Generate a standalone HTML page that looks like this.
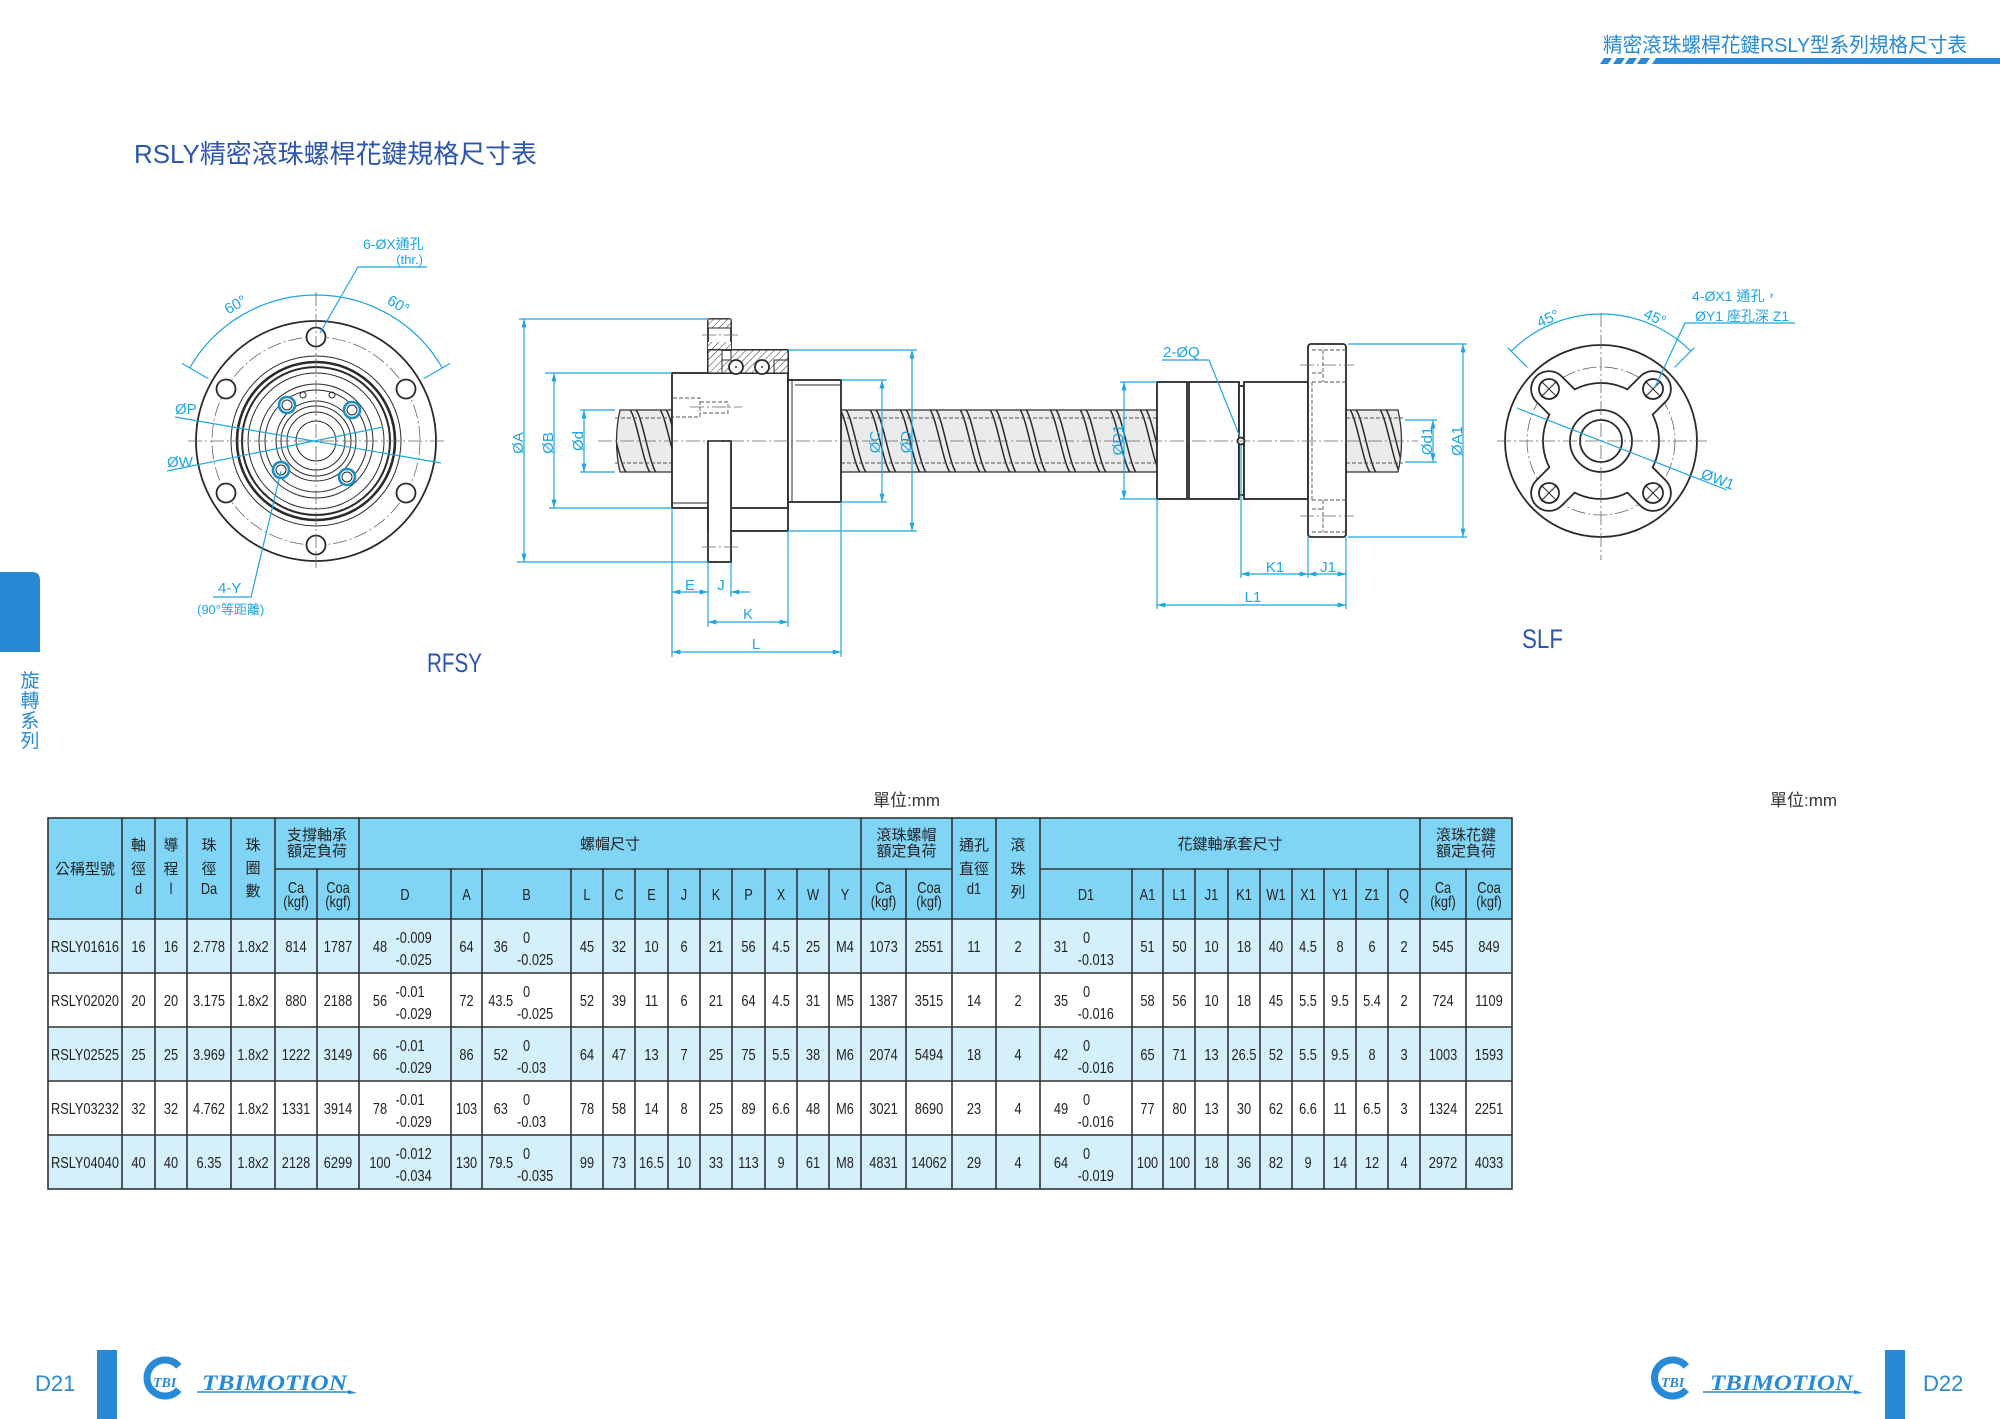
<!DOCTYPE html>
<html><head><meta charset="utf-8"><title>RSLY</title>
<style>
html,body{margin:0;padding:0;background:#fff;width:2000px;height:1419px;overflow:hidden}
svg{display:block}
text{font-family:"Liberation Sans","Noto Sans CJK TC",sans-serif}
.d{fill:#1ea5e4;font-size:15px}
.dl{stroke:#1ea5e4;stroke-width:1.2;fill:none}
.o{stroke:#2a2a2a;stroke-width:1.8;fill:#fff}
.t{stroke:#2a2a2a;stroke-width:1;fill:none}
.c{stroke:#666;stroke-width:.8;fill:none;stroke-dasharray:14 3 2 3}
.h{stroke:#555;stroke-width:.9;fill:none;stroke-dasharray:4 2}
.logo{font-family:"Liberation Serif",serif;font-weight:bold;font-style:italic;fill:#2889d6}
</style></head><body>
<svg width="2000" height="1419" viewBox="0 0 2000 1419" xmlns="http://www.w3.org/2000/svg">
<defs>
<marker id="ar" viewBox="0 0 10 6" refX="10" refY="3" markerWidth="9" markerHeight="5" markerUnits="userSpaceOnUse" orient="auto-start-reverse"><path d="M0,0L10,3L0,6z" fill="#1ea5e4"/></marker>
<pattern id="thr" patternUnits="userSpaceOnUse" x="0" y="410" width="30" height="62">
<rect width="30" height="62" fill="#ebebeb"/>
<path d="M0,0C6,6 14,56 20,62M6,0C12,6 20,56 26,62" stroke="#2a2a2a" stroke-width="1.5" fill="none"/>
</pattern>
<pattern id="hat" patternUnits="userSpaceOnUse" width="5" height="5" patternTransform="rotate(45)"><rect width="5" height="5" fill="#fff"/><line x1="0" y1="0" x2="0" y2="5" stroke="#333" stroke-width="1"/></pattern>
</defs>

<!-- page header -->
<text x="1603" y="52" style="font-size:20.5px" fill="#2889d6" textLength="364" lengthAdjust="spacingAndGlyphs">精密滾珠螺桿花鍵RSLY型系列規格尺寸表</text>
<g fill="#2889d6">
<polygon points="1604,58 1612,58 1608,64 1600,64"/>
<polygon points="1617,58 1625,58 1621,64 1613,64"/>
<polygon points="1629,58 1637,58 1633,64 1625,64"/>
<polygon points="1641,58 1650,58 1646,64 1637,64"/>
<polygon points="1656,58 2000,58 2000,64 1652,64"/>
</g>

<!-- title -->
<text x="134" y="163" style="font-size:26px" fill="#2b55b0" textLength="403" lengthAdjust="spacingAndGlyphs">RSLY精密滾珠螺桿花鍵規格尺寸表</text>

<!-- side tab -->
<path d="M0,572H32Q40,572 40,580V652H0Z" fill="#2889d6"/>
<g style="font-size:19px" fill="#2a8ad4" text-anchor="middle">
<text x="30" y="687">旋</text><text x="30" y="707">轉</text><text x="30" y="727">系</text><text x="30" y="747">列</text>
</g>

<!-- ===== Left flange end view ===== -->
<g>
<circle cx="316" cy="441" r="120" class="o" stroke-width="2"/>
<circle cx="316" cy="441" r="104" class="c"/>
<g class="o" stroke-width="1.5">
<circle cx="316" cy="337" r="9.5"/><circle cx="406" cy="389" r="9.5"/><circle cx="406" cy="493" r="9.5"/>
<circle cx="316" cy="545" r="9.5"/><circle cx="226" cy="493" r="9.5"/><circle cx="226" cy="389" r="9.5"/>
</g>
<circle cx="316" cy="441" r="85" class="t" stroke-width="1.3"/>
<circle cx="316" cy="441" r="79" fill="none" stroke="#2a2a2a" stroke-width="2.6"/>
<circle cx="316" cy="441" r="74" fill="none" stroke="#2a2a2a" stroke-width="2"/>
<circle cx="316" cy="441" r="68" class="t"/>
<circle cx="316" cy="441" r="57" class="t" stroke-width="1.5"/>
<circle cx="316" cy="441" r="51" class="t"/>
<circle cx="316" cy="441" r="40" class="t" stroke-width="1.5"/>
<circle cx="316" cy="441" r="35" class="t"/>
<circle cx="316" cy="441" r="29" class="t" stroke-width="1.5"/>
<circle cx="316" cy="441" r="20" class="t" stroke-width="1.5"/>
<circle cx="303" cy="395" r="3" class="t"/><circle cx="332" cy="395" r="3" class="t"/>
<g fill="#fff" stroke="#1b8fc6" stroke-width="2.6">
<circle cx="287" cy="405" r="8"/><circle cx="352" cy="410" r="8"/><circle cx="281" cy="470" r="8"/><circle cx="347" cy="477" r="8"/>
</g>
<g class="t"><circle cx="287" cy="405" r="5"/><circle cx="352" cy="410" r="5"/><circle cx="281" cy="470" r="5"/><circle cx="347" cy="477" r="5"/></g>
<line x1="188" y1="441" x2="446" y2="441" class="c"/>
<line x1="316" y1="292" x2="316" y2="568" class="c"/>
<!-- dims -->
<path d="M189.6,368A146,146 0 0 1 316,295M316,295A146,146 0 0 1 442.4,368" class="dl"/>
<line x1="182" y1="363.5" x2="208" y2="378.5" class="dl"/>
<line x1="450" y1="363.5" x2="424" y2="378.5" class="dl"/>
<text class="d" text-anchor="middle" transform="translate(238,309) rotate(-30)">60°</text>
<text class="d" text-anchor="middle" transform="translate(396,309) rotate(30)">60°</text>
<text x="363" y="249" style="font-size:14px" fill="#1ea5e4">6-ØX通孔</text>
<text x="423" y="264" style="font-size:13px" fill="#1ea5e4" text-anchor="end">(thr.)</text>
<polyline points="427,267 358,267 320,333" class="dl"/>
<text class="d" x="175" y="414">ØP</text>
<line x1="175" y1="417" x2="441" y2="463" class="dl"/>
<text class="d" x="167" y="467">ØW</text>
<line x1="167" y1="471" x2="383" y2="427" class="dl"/>
<text class="d" x="218" y="593">4-Y</text>
<polyline points="213,597 251,597 281,471" class="dl"/>
<text x="197" y="614" style="font-size:13px" fill="#1ea5e4">(90°等距離)</text>
</g>

<!-- ===== Main side view ===== -->
<g>
<!-- screws -->
<path d="M672,410H620Q613,441 620,472H672Z" fill="url(#thr)" stroke="#333" stroke-width="1.3"/>
<rect x="841" y="410" width="316" height="62" fill="url(#thr)" stroke="#333" stroke-width="1.3"/>
<path d="M1346,410H1398Q1405,441 1398,472H1346Z" fill="url(#thr)" stroke="#333" stroke-width="1.3"/>
<path d="M615,418H672M615,463H672M841,418H1157M841,463H1157M1346,418H1403M1346,463H1403" class="h"/>

<!-- RFSY nut -->
<rect x="708" y="350" width="80" height="181" class="o"/>
<rect x="672" y="373" width="116" height="135" class="o"/>
<rect x="672" y="503" width="36" height="5" class="t"/>
<rect x="708" y="441" width="23" height="121" class="o"/>
<rect x="708" y="319" width="23" height="31" class="o" rx="2"/>
<rect x="708" y="319" width="23" height="9" fill="url(#hat)" stroke="#2a2a2a" stroke-width="1"/>
<rect x="708" y="342" width="23" height="8" fill="url(#hat)"/>
<rect x="708" y="350" width="80" height="23" class="o"/>
<path d="M708,350H788V360H774V373H722V360H731V350Z" fill="url(#hat)" stroke="#2a2a2a" stroke-width="1"/>
<path d="M708,350H722V373H708Z" fill="url(#hat)" stroke="#2a2a2a" stroke-width="1"/>
<path d="M774,360H788V373H774Z" fill="url(#hat)" stroke="#2a2a2a" stroke-width="1"/>
<circle cx="736" cy="367" r="7" class="o" stroke-width="1.5"/><circle cx="762" cy="367" r="7" class="o" stroke-width="1.5"/>
<circle cx="736" cy="367" r="1" fill="#333"/><circle cx="762" cy="367" r="1" fill="#333"/>
<line x1="702" y1="335" x2="739" y2="335" class="c"/>
<line x1="702" y1="547" x2="739" y2="547" class="c"/>
<path d="M673,398H700V417H673M700,402H728V413H700" class="h"/>
<line x1="690" y1="407" x2="742" y2="407" class="c"/>
<rect x="788" y="380" width="53" height="122" class="o"/>
<line x1="792" y1="380" x2="792" y2="502" class="t"/>
<line x1="795" y1="385" x2="841" y2="385" class="t"/>

<!-- SLF nut -->
<rect x="1157" y="382" width="30" height="117" class="o"/>
<rect x="1189" y="382" width="50" height="117" class="o"/>
<rect x="1239" y="386" width="5" height="109" class="o"/>
<rect x="1244" y="382" width="64" height="117" class="o"/>
<rect x="1308" y="344" width="38" height="193" rx="3" class="o"/>
<path d="M1312,350H1346M1312,382H1346M1323,350V382M1312,373H1323M1312,500H1346M1312,532H1346M1323,500V532M1312,509H1323M1312,382V500" class="h"/>
<line x1="1300" y1="365" x2="1354" y2="365" class="c"/>
<line x1="1300" y1="516" x2="1354" y2="516" class="c"/>
<circle cx="1241" cy="441" r="3.5" class="o" stroke-width="1"/>

<line x1="598" y1="441" x2="1418" y2="441" class="c"/>

<!-- dimension lines RFSY -->
<g class="dl">
<path d="M519,319H708M517,562H708M545,373H672M549,508H672M580,410H615M580,472H615M841,380H887M841,502H887M788,350H917M788,531H917"/>
<path d="M672,508V657M708,562V627M731,562V597M788,531V627M841,502V657"/>
<line x1="524" y1="319" x2="524" y2="562" marker-start="url(#ar)" marker-end="url(#ar)"/>
<line x1="554" y1="373" x2="554" y2="508" marker-start="url(#ar)" marker-end="url(#ar)"/>
<line x1="584" y1="410" x2="584" y2="472" marker-start="url(#ar)" marker-end="url(#ar)"/>
<line x1="882" y1="380" x2="882" y2="502" marker-start="url(#ar)" marker-end="url(#ar)"/>
<line x1="912" y1="350" x2="912" y2="531" marker-start="url(#ar)" marker-end="url(#ar)"/>
<line x1="672" y1="592" x2="708" y2="592" marker-start="url(#ar)" marker-end="url(#ar)"/>
<line x1="750" y1="592" x2="731" y2="592" marker-end="url(#ar)"/>
<line x1="708" y1="622" x2="788" y2="622" marker-start="url(#ar)" marker-end="url(#ar)"/>
<line x1="672" y1="652" x2="841" y2="652" marker-start="url(#ar)" marker-end="url(#ar)"/>
</g>
<text class="d" text-anchor="middle" transform="translate(523,443) rotate(-90)">ØA</text>
<text class="d" text-anchor="middle" transform="translate(553,443) rotate(-90)">ØB</text>
<text class="d" text-anchor="middle" transform="translate(583,441) rotate(-90)">Ød</text>
<text class="d" text-anchor="middle" transform="translate(880,442) rotate(-90)">ØC</text>
<text class="d" text-anchor="middle" transform="translate(911,442) rotate(-90)">ØD</text>
<text class="d" x="690" y="590" text-anchor="middle">E</text>
<text class="d" x="721" y="590" text-anchor="middle">J</text>
<text class="d" x="748" y="619" text-anchor="middle">K</text>
<text class="d" x="756" y="649" text-anchor="middle">L</text>

<!-- dimension lines SLF -->
<g class="dl">
<path d="M1120,382H1157M1120,499H1157M1405,420H1437M1405,462H1437M1348,344H1467M1348,537H1467"/>
<path d="M1157,499V609M1241,445V578M1308,537V578M1346,537V609"/>
<line x1="1124" y1="382" x2="1124" y2="499" marker-start="url(#ar)" marker-end="url(#ar)"/>
<line x1="1433" y1="420" x2="1433" y2="462" marker-start="url(#ar)" marker-end="url(#ar)"/>
<line x1="1463" y1="344" x2="1463" y2="537" marker-start="url(#ar)" marker-end="url(#ar)"/>
<line x1="1241" y1="574" x2="1308" y2="574" marker-start="url(#ar)" marker-end="url(#ar)"/>
<line x1="1308" y1="574" x2="1346" y2="574" marker-start="url(#ar)" marker-end="url(#ar)"/>
<line x1="1157" y1="605" x2="1346" y2="605" marker-start="url(#ar)" marker-end="url(#ar)"/>
<polyline points="1162,360 1209,360 1240,437"/>
</g>
<text class="d" text-anchor="middle" transform="translate(1123,440) rotate(-90)">ØD1</text>
<text class="d" text-anchor="middle" transform="translate(1432,441) rotate(-90)">Ød1</text>
<text class="d" text-anchor="middle" transform="translate(1462,441) rotate(-90)">ØA1</text>
<text class="d" x="1275" y="572" text-anchor="middle">K1</text>
<text class="d" x="1328" y="572" text-anchor="middle">J1</text>
<text class="d" x="1253" y="602" text-anchor="middle">L1</text>
<text class="d" x="1163" y="357">2-ØQ</text>
</g>

<!-- ===== SLF end view ===== -->
<g>
<circle cx="1601" cy="441" r="96" class="o" stroke-width="2"/>
<circle cx="1601" cy="441" r="74" class="c"/>
<g stroke="#2a2a2a" stroke-width="37.6" stroke-linecap="round">
<line x1="1601" y1="441" x2="1549" y2="389"/><line x1="1601" y1="441" x2="1653" y2="389"/>
<line x1="1601" y1="441" x2="1549" y2="493"/><line x1="1601" y1="441" x2="1653" y2="493"/>
</g>
<circle cx="1601" cy="441" r="58.9" fill="#2a2a2a"/>
<g stroke="#fff" stroke-width="34" stroke-linecap="round">
<line x1="1601" y1="441" x2="1549" y2="389"/><line x1="1601" y1="441" x2="1653" y2="389"/>
<line x1="1601" y1="441" x2="1549" y2="493"/><line x1="1601" y1="441" x2="1653" y2="493"/>
</g>
<circle cx="1601" cy="441" r="57.1" fill="#fff"/>
<g class="o" stroke-width="1.6">
<circle cx="1549" cy="389" r="10"/><circle cx="1653" cy="389" r="10"/><circle cx="1549" cy="493" r="10"/><circle cx="1653" cy="493" r="10"/>
</g>
<path d="M1541,381L1557,397M1557,381L1541,397M1645,381L1661,397M1661,381L1645,397M1541,485L1557,501M1557,485L1541,501M1645,485L1661,501M1661,485L1645,501" class="t" stroke-width=".7"/>
<circle cx="1601" cy="441" r="31" class="o" stroke-width="1.8"/>
<circle cx="1601" cy="441" r="21" class="o" stroke-width="1.8"/>
<line x1="1497" y1="441" x2="1707" y2="441" class="c"/>
<line x1="1601" y1="313" x2="1601" y2="560" class="c"/>
<path d="M1511.2,351.2A127,127 0 0 1 1601,314M1601,314A127,127 0 0 1 1690.8,351.2" class="dl"/>
<line x1="1507.7" y1="347.7" x2="1527.5" y2="367.5" class="dl"/>
<line x1="1694.3" y1="347.7" x2="1674.5" y2="367.5" class="dl"/>
<text class="d" text-anchor="middle" transform="translate(1550,323) rotate(-24)">45°</text>
<text class="d" text-anchor="middle" transform="translate(1653,322) rotate(24)">45°</text>
<text x="1692" y="301" style="font-size:14px" fill="#1ea5e4">4-ØX1 通孔，</text>
<text x="1695" y="321" style="font-size:14px" fill="#1ea5e4">ØY1 座孔深 Z1</text>
<polyline points="1795,323 1685,323 1655,387" class="dl"/>
<line x1="1517" y1="408" x2="1727" y2="490" class="dl"/>
<text class="d" text-anchor="middle" transform="translate(1716,484) rotate(21)">ØW1</text>
</g>

<text x="427" y="672" style="font-size:27px" fill="#2b55b0" textLength="55" lengthAdjust="spacingAndGlyphs">RFSY</text>
<text x="1522" y="648" style="font-size:27px" fill="#2b55b0" textLength="41" lengthAdjust="spacingAndGlyphs">SLF</text>

<text x="873" y="806" style="font-size:17px" fill="#333">單位:mm</text>
<text x="1770" y="806" style="font-size:17px" fill="#333">單位:mm</text>

<!-- ===== TABLE ===== -->
<rect x="48" y="818" width="1464" height="101" fill="#80d4f6"/>
<rect x="48" y="919" width="1464" height="54" fill="#d4f0fb"/>
<rect x="48" y="1027" width="1464" height="54" fill="#d4f0fb"/>
<rect x="48" y="1135" width="1464" height="54" fill="#d4f0fb"/>
<g stroke="#333" stroke-width="1.6" fill="none">
<rect x="48" y="818" width="1464" height="371"/>
<path d="M48,919H1512M48,973H1512M48,1027H1512M48,1081H1512M48,1135H1512M275,869H952M1040,869H1512"/>
<path d="M122,818V1189M155,818V1189M187,818V1189M231,818V1189M275,818V1189M359,818V1189M861,818V1189M952,818V1189M996,818V1189M1040,818V1189M1420,818V1189"/>
<path d="M317,869V1189M451,869V1189M482,869V1189M571,869V1189M603,869V1189M635,869V1189M668,869V1189M700,869V1189M732,869V1189M765,869V1189M797,869V1189M829,869V1189M906,869V1189M1132,869V1189M1163,869V1189M1195,869V1189M1228,869V1189M1260,869V1189M1292,869V1189M1324,869V1189M1356,869V1189M1388,869V1189M1466,869V1189"/>
</g>

<g style="font-size:15px" fill="#222" text-anchor="middle">
<text x="85" y="874">公稱型號</text>
<text x="138.5" y="850">軸</text><text x="138.5" y="874">徑</text>
<text x="171" y="850">導</text><text x="171" y="874">程</text>
<text x="209" y="850">珠</text><text x="209" y="874">徑</text>
<text x="253" y="850">珠</text><text x="253" y="873">圈</text><text x="253" y="896">數</text>
<text x="317" y="840">支撐軸承</text><text x="317" y="856">額定負荷</text>
<text x="610" y="849">螺帽尺寸</text>
<text x="906.5" y="840">滾珠螺帽</text><text x="906.5" y="856">額定負荷</text>
<text x="974" y="850">通孔</text><text x="974" y="874">直徑</text>
<text x="1018" y="850">滾</text><text x="1018" y="874">珠</text><text x="1018" y="897">列</text>
<text x="1230" y="849">花鍵軸承套尺寸</text>
<text x="1466" y="840">滾珠花鍵</text><text x="1466" y="856">額定負荷</text>
</g>

<g transform="scale(0.8,1)" style="font-size:16px" fill="#222" text-anchor="middle">
<text y="894"><tspan x="173.13">d</tspan><tspan x="213.75">l</tspan><tspan x="261.25">Da</tspan><tspan x="1217.5">d1</tspan></text>
<text y="893"><tspan x="370">Ca</tspan><tspan x="422.5">Coa</tspan><tspan x="1104.38">Ca</tspan><tspan x="1161.25">Coa</tspan><tspan x="1803.75">Ca</tspan><tspan x="1861.25">Coa</tspan></text>
<text y="907"><tspan x="370">(kgf)</tspan><tspan x="422.5">(kgf)</tspan><tspan x="1104.38">(kgf)</tspan><tspan x="1161.25">(kgf)</tspan><tspan x="1803.75">(kgf)</tspan><tspan x="1861.25">(kgf)</tspan></text>
<text y="900"><tspan x="506.25">D</tspan><tspan x="583.13">A</tspan><tspan x="658.13">B</tspan><tspan x="733.75">L</tspan><tspan x="773.75">C</tspan><tspan x="814.38">E</tspan><tspan x="855">J</tspan><tspan x="895">K</tspan><tspan x="935.63">P</tspan><tspan x="976.25">X</tspan><tspan x="1016.25">W</tspan><tspan x="1056.25">Y</tspan><tspan x="1357.5">D1</tspan><tspan x="1434.38">A1</tspan><tspan x="1474.38">L1</tspan><tspan x="1514.38">J1</tspan><tspan x="1555">K1</tspan><tspan x="1595">W1</tspan><tspan x="1635">X1</tspan><tspan x="1675">Y1</tspan><tspan x="1715">Z1</tspan><tspan x="1755">Q</tspan></text>

<!-- row 1 -->
<text y="952"><tspan x="106.25">RSLY01616</tspan><tspan x="173.13">16</tspan><tspan x="213.75">16</tspan><tspan x="261.25">2.778</tspan><tspan x="316.25">1.8x2</tspan><tspan x="370">814</tspan><tspan x="422.5">1787</tspan><tspan x="475">48</tspan><tspan x="583.13">64</tspan><tspan x="625.9">36</tspan><tspan x="733.75">45</tspan><tspan x="773.75">32</tspan><tspan x="814.38">10</tspan><tspan x="855">6</tspan><tspan x="895">21</tspan><tspan x="935.63">56</tspan><tspan x="976.25">4.5</tspan><tspan x="1016.25">25</tspan><tspan x="1056.25">M4</tspan><tspan x="1104.38">1073</tspan><tspan x="1161.25">2551</tspan><tspan x="1217.5">11</tspan><tspan x="1272.5">2</tspan><tspan x="1326.25">31</tspan><tspan x="1434.38">51</tspan><tspan x="1474.38">50</tspan><tspan x="1514.38">10</tspan><tspan x="1555">18</tspan><tspan x="1595">40</tspan><tspan x="1635">4.5</tspan><tspan x="1675">8</tspan><tspan x="1715">6</tspan><tspan x="1755">2</tspan><tspan x="1803.75">545</tspan><tspan x="1861.25">849</tspan></text>
<text y="943" text-anchor="start"><tspan x="494.4">-0.009</tspan><tspan x="653.75">0</tspan><tspan x="1353.75">0</tspan></text>
<text y="965" text-anchor="start"><tspan x="494.4">-0.025</tspan><tspan x="646.25">-0.025</tspan><tspan x="1347">-0.013</tspan></text>

<!-- row 2 -->
<text y="1006"><tspan x="106.25">RSLY02020</tspan><tspan x="173.13">20</tspan><tspan x="213.75">20</tspan><tspan x="261.25">3.175</tspan><tspan x="316.25">1.8x2</tspan><tspan x="370">880</tspan><tspan x="422.5">2188</tspan><tspan x="475">56</tspan><tspan x="583.13">72</tspan><tspan x="625.9">43.5</tspan><tspan x="733.75">52</tspan><tspan x="773.75">39</tspan><tspan x="814.38">11</tspan><tspan x="855">6</tspan><tspan x="895">21</tspan><tspan x="935.63">64</tspan><tspan x="976.25">4.5</tspan><tspan x="1016.25">31</tspan><tspan x="1056.25">M5</tspan><tspan x="1104.38">1387</tspan><tspan x="1161.25">3515</tspan><tspan x="1217.5">14</tspan><tspan x="1272.5">2</tspan><tspan x="1326.25">35</tspan><tspan x="1434.38">58</tspan><tspan x="1474.38">56</tspan><tspan x="1514.38">10</tspan><tspan x="1555">18</tspan><tspan x="1595">45</tspan><tspan x="1635">5.5</tspan><tspan x="1675">9.5</tspan><tspan x="1715">5.4</tspan><tspan x="1755">2</tspan><tspan x="1803.75">724</tspan><tspan x="1861.25">1109</tspan></text>
<text y="997" text-anchor="start"><tspan x="494.4">-0.01</tspan><tspan x="653.75">0</tspan><tspan x="1353.75">0</tspan></text>
<text y="1019" text-anchor="start"><tspan x="494.4">-0.029</tspan><tspan x="646.25">-0.025</tspan><tspan x="1347">-0.016</tspan></text>

<!-- row 3 -->
<text y="1060"><tspan x="106.25">RSLY02525</tspan><tspan x="173.13">25</tspan><tspan x="213.75">25</tspan><tspan x="261.25">3.969</tspan><tspan x="316.25">1.8x2</tspan><tspan x="370">1222</tspan><tspan x="422.5">3149</tspan><tspan x="475">66</tspan><tspan x="583.13">86</tspan><tspan x="625.9">52</tspan><tspan x="733.75">64</tspan><tspan x="773.75">47</tspan><tspan x="814.38">13</tspan><tspan x="855">7</tspan><tspan x="895">25</tspan><tspan x="935.63">75</tspan><tspan x="976.25">5.5</tspan><tspan x="1016.25">38</tspan><tspan x="1056.25">M6</tspan><tspan x="1104.38">2074</tspan><tspan x="1161.25">5494</tspan><tspan x="1217.5">18</tspan><tspan x="1272.5">4</tspan><tspan x="1326.25">42</tspan><tspan x="1434.38">65</tspan><tspan x="1474.38">71</tspan><tspan x="1514.38">13</tspan><tspan x="1555">26.5</tspan><tspan x="1595">52</tspan><tspan x="1635">5.5</tspan><tspan x="1675">9.5</tspan><tspan x="1715">8</tspan><tspan x="1755">3</tspan><tspan x="1803.75">1003</tspan><tspan x="1861.25">1593</tspan></text>
<text y="1051" text-anchor="start"><tspan x="494.4">-0.01</tspan><tspan x="653.75">0</tspan><tspan x="1353.75">0</tspan></text>
<text y="1073" text-anchor="start"><tspan x="494.4">-0.029</tspan><tspan x="646.25">-0.03</tspan><tspan x="1347">-0.016</tspan></text>

<!-- row 4 -->
<text y="1114"><tspan x="106.25">RSLY03232</tspan><tspan x="173.13">32</tspan><tspan x="213.75">32</tspan><tspan x="261.25">4.762</tspan><tspan x="316.25">1.8x2</tspan><tspan x="370">1331</tspan><tspan x="422.5">3914</tspan><tspan x="475">78</tspan><tspan x="583.13">103</tspan><tspan x="625.9">63</tspan><tspan x="733.75">78</tspan><tspan x="773.75">58</tspan><tspan x="814.38">14</tspan><tspan x="855">8</tspan><tspan x="895">25</tspan><tspan x="935.63">89</tspan><tspan x="976.25">6.6</tspan><tspan x="1016.25">48</tspan><tspan x="1056.25">M6</tspan><tspan x="1104.38">3021</tspan><tspan x="1161.25">8690</tspan><tspan x="1217.5">23</tspan><tspan x="1272.5">4</tspan><tspan x="1326.25">49</tspan><tspan x="1434.38">77</tspan><tspan x="1474.38">80</tspan><tspan x="1514.38">13</tspan><tspan x="1555">30</tspan><tspan x="1595">62</tspan><tspan x="1635">6.6</tspan><tspan x="1675">11</tspan><tspan x="1715">6.5</tspan><tspan x="1755">3</tspan><tspan x="1803.75">1324</tspan><tspan x="1861.25">2251</tspan></text>
<text y="1105" text-anchor="start"><tspan x="494.4">-0.01</tspan><tspan x="653.75">0</tspan><tspan x="1353.75">0</tspan></text>
<text y="1127" text-anchor="start"><tspan x="494.4">-0.029</tspan><tspan x="646.25">-0.03</tspan><tspan x="1347">-0.016</tspan></text>

<!-- row 5 -->
<text y="1168"><tspan x="106.25">RSLY04040</tspan><tspan x="173.13">40</tspan><tspan x="213.75">40</tspan><tspan x="261.25">6.35</tspan><tspan x="316.25">1.8x2</tspan><tspan x="370">2128</tspan><tspan x="422.5">6299</tspan><tspan x="475">100</tspan><tspan x="583.13">130</tspan><tspan x="625.9">79.5</tspan><tspan x="733.75">99</tspan><tspan x="773.75">73</tspan><tspan x="814.38">16.5</tspan><tspan x="855">10</tspan><tspan x="895">33</tspan><tspan x="935.63">113</tspan><tspan x="976.25">9</tspan><tspan x="1016.25">61</tspan><tspan x="1056.25">M8</tspan><tspan x="1104.38">4831</tspan><tspan x="1161.25">14062</tspan><tspan x="1217.5">29</tspan><tspan x="1272.5">4</tspan><tspan x="1326.25">64</tspan><tspan x="1434.38">100</tspan><tspan x="1474.38">100</tspan><tspan x="1514.38">18</tspan><tspan x="1555">36</tspan><tspan x="1595">82</tspan><tspan x="1635">9</tspan><tspan x="1675">14</tspan><tspan x="1715">12</tspan><tspan x="1755">4</tspan><tspan x="1803.75">2972</tspan><tspan x="1861.25">4033</tspan></text>
<text y="1159" text-anchor="start"><tspan x="494.4">-0.012</tspan><tspan x="653.75">0</tspan><tspan x="1353.75">0</tspan></text>
<text y="1181" text-anchor="start"><tspan x="494.4">-0.034</tspan><tspan x="646.25">-0.035</tspan><tspan x="1347">-0.019</tspan></text>
</g>

<!-- ===== FOOTER ===== -->
<text x="35" y="1391" style="font-size:22px" fill="#2889d6">D21</text>
<rect x="97" y="1350" width="20" height="69" fill="#2889d6"/>
<path d="M178.8,1366.4A18,18 0 1 0 178.8,1389.6" fill="none" stroke="#2889d6" stroke-width="7"/>
<text x="153" y="1387" class="logo" style="font-size:14px">TBI</text>
<text x="202" y="1390" class="logo" style="font-size:22px" textLength="145" lengthAdjust="spacingAndGlyphs">TBIMOTION</text>
<path d="M197,1392H352" stroke="#2889d6" stroke-width="1.5"/>
<path d="M348,1390L357,1393L348,1394Z" fill="#2889d6"/>

<path d="M1686.3,1366.4A18,18 0 1 0 1686.3,1389.6" fill="none" stroke="#2889d6" stroke-width="7"/>
<text x="1661" y="1387" class="logo" style="font-size:14px">TBI</text>
<text x="1710" y="1390" class="logo" style="font-size:22px" textLength="143" lengthAdjust="spacingAndGlyphs">TBIMOTION</text>
<path d="M1703,1392H1858" stroke="#2889d6" stroke-width="1.5"/>
<path d="M1854,1390L1863,1393L1854,1394Z" fill="#2889d6"/>
<rect x="1885" y="1350" width="20" height="69" fill="#2889d6"/>
<text x="1923" y="1391" style="font-size:22px" fill="#2889d6">D22</text>
</svg>
</body></html>
